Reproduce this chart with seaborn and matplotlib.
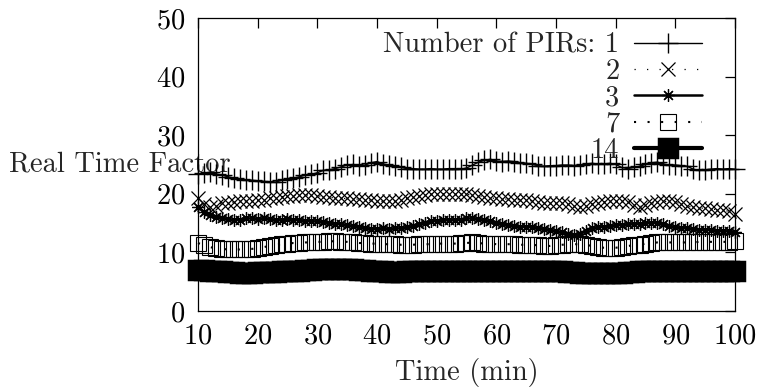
import numpy as np
import pandas as pd
import seaborn as sns
import matplotlib
matplotlib.use("Agg")
import matplotlib.pyplot as plt

# -----------------------------
# Data
# -----------------------------
minutes = list(range(10, 101))

pir_1 = [23.3, 23.5, 23.7, 23.4, 23.2, 22.9, 22.7, 22.5, 22.4, 22.3,
         22.2, 22.1, 22.0, 22.0, 22.3, 22.6, 22.7, 22.9, 23.2, 23.3,
         23.6, 24.0, 24.1, 24.3, 24.6, 24.9, 25.0, 24.8, 24.9, 25.3,
         25.5, 25.1, 24.9, 24.7, 24.5, 24.3, 24.3, 24.2, 24.2, 24.3,
         24.2, 24.2, 24.3, 24.3, 24.2, 24.4, 24.9, 25.4, 25.7, 25.9,
         25.6, 25.5, 25.6, 25.5, 25.3, 25.2, 25.0, 24.8, 24.7, 24.8,
         24.8, 24.9, 24.9, 24.8, 24.9, 25.1, 25.2, 25.1, 25.1, 25.2,
         25.0, 24.5, 24.3, 24.5, 24.7, 25.0, 25.3, 25.4, 25.1, 24.9,
         24.9, 24.8, 24.7, 24.2, 24.0, 24.1, 24.2, 24.3, 24.2, 24.3,
         24.2]

pir_2 = [19.2, 18.3, 17.8, 18.0, 18.4, 18.5, 18.6, 18.7, 18.8, 18.8,
         18.9, 19.0, 19.2, 19.3, 19.5, 19.6, 19.7, 19.8, 19.8, 19.8,
         19.7, 19.5, 19.4, 19.3, 19.2, 19.2, 19.1, 19.1, 19.0, 18.9,
         18.8, 18.7, 18.7, 18.8, 18.9, 19.2, 19.5, 19.6, 19.8, 19.9,
         20.0, 20.0, 20.0, 20.0, 19.9, 19.9, 19.8, 19.7, 19.5, 19.3,
         19.2, 19.1, 19.1, 19.0, 19.0, 18.9, 18.8, 18.6, 18.5, 18.5,
         18.4, 18.4, 18.2, 17.9, 17.8, 18.0, 18.2, 18.4, 18.6, 18.7,
         18.7, 18.7, 18.6, 18.1, 17.8, 18.1, 18.4, 18.6, 18.7, 18.7,
         18.6, 18.3, 17.9, 17.7, 17.6, 17.5, 17.4, 17.3, 17.2, 17.0,
         16.6]

pir_3 = [17.8, 16.9, 16.3, 16.1, 15.9, 15.7, 15.5, 15.6, 15.8, 15.8,
         15.7, 15.8, 15.7, 15.5, 15.5, 15.7, 15.6, 15.5, 15.4, 15.3,
         15.3, 15.2, 15.1, 14.9, 14.8, 14.6, 14.5, 14.4, 14.2, 14.0,
         14.0, 14.1, 14.0, 14.1, 14.1, 14.3, 14.5, 14.8, 15.1, 15.3,
         15.4, 15.5, 15.5, 15.5, 15.6, 15.8, 15.8, 15.7, 15.5, 15.3,
         15.1, 14.9, 14.7, 14.5, 14.4, 14.4, 14.3, 14.2, 14.0, 13.8,
         13.6, 13.4, 13.2, 13.0, 13.2, 13.7, 14.1, 14.3, 14.4, 14.5,
         14.6, 14.7, 14.8, 14.8, 14.9, 15.0, 15.0, 15.1, 14.9, 14.5,
         14.3, 14.2, 14.1, 14.0, 13.9, 13.9, 13.8, 13.7, 13.6, 13.6,
         13.5]

pir_7 = [11.6, 11.2, 10.9, 10.7, 10.6, 10.5, 10.5, 10.5, 10.6, 10.6,
         10.7, 10.9, 11.1, 11.3, 11.4, 11.5, 11.6, 11.6, 11.7, 11.7,
         11.8, 11.8, 11.9, 11.9, 11.8, 11.8, 11.7, 11.6, 11.6, 11.5,
         11.5, 11.4, 11.4, 11.4, 11.3, 11.3, 11.3, 11.4, 11.4, 11.4,
         11.5, 11.5, 11.5, 11.5, 11.6, 11.6, 11.7, 11.6, 11.5, 11.5,
         11.4, 11.4, 11.4, 11.4, 11.3, 11.3, 11.3, 11.2, 11.1, 11.1,
         11.2, 11.3, 11.4, 11.4, 11.4, 11.3, 11.1, 10.9, 10.8, 10.8,
         10.8, 10.9, 11.1, 11.2, 11.3, 11.5, 11.6, 11.7, 11.7, 11.7,
         11.7, 11.7, 11.7, 11.7, 11.8, 11.8, 11.8, 11.8, 11.8, 11.8,
         11.9]

pir_14 = [7.0, 7.0, 6.9, 6.9, 6.8, 6.7, 6.6, 6.5, 6.5, 6.5,
          6.6, 6.6, 6.7, 6.7, 6.8, 6.8, 6.9, 6.9, 7.0, 7.0,
          7.1, 7.1, 7.2, 7.2, 7.2, 7.1, 7.1, 7.0, 7.0, 6.9,
          6.8, 6.8, 6.7, 6.7, 6.7, 6.8, 6.8, 6.8, 6.9, 6.9,
          6.9, 6.9, 6.9, 6.9, 6.9, 6.8, 6.8, 6.8, 6.9, 6.9,
          6.9, 6.9, 6.9, 6.8, 6.8, 6.8, 6.8, 6.8, 6.9, 6.9,
          6.9, 6.8, 6.7, 6.6, 6.5, 6.5, 6.5, 6.5, 6.5, 6.5,
          6.5, 6.5, 6.6, 6.7, 6.8, 6.9, 6.9, 6.9, 6.9, 6.9,
          6.9, 6.9, 6.9, 6.9, 6.8, 6.8, 6.8, 6.8, 6.8, 6.8,
          6.9]

labels = ["Number of PIRs: 1", "2", "3", "7", "14"]

# -----------------------------
# Style
# -----------------------------
sns.set_style("white")
plt.rcParams['font.family'] = ['cmr10', 'DejaVu Serif']
plt.rcParams['axes.formatter.use_mathtext'] = True
plt.rcParams['mathtext.fontset'] = 'cm'
plt.rcParams['font.size'] = 20.5

fig = plt.figure(figsize=(7.63, 3.91), dpi=100)
ax = fig.add_axes([0.2595, 0.2046, 0.7038, 0.7494])

styles = [
    dict(y=pir_1, marker='+', markersize=14, markeredgewidth=1.0,
         linewidth=1.0, linestyle='-'),
    dict(y=pir_2, marker='x', markersize=10, markeredgewidth=0.9,
         linewidth=0.9, linestyle=(0, (1, 9))),
    dict(y=pir_3, marker=(8, 2, 0), markersize=9, markeredgewidth=0.9,
         linewidth=1.8, linestyle='-'),
    dict(y=pir_7, marker='s', markersize=11, markeredgewidth=0.8,
         markerfacecolor='none', linewidth=1.5, linestyle=(0, (1, 5.5))),
    dict(y=pir_14, marker='s', markersize=12.5, markeredgewidth=2.5,
         linewidth=3.0, linestyle='-'),
]

for lab, st in zip(labels, styles):
    st = dict(st)
    yvals = st.pop('y')
    df = pd.DataFrame({'Time': minutes, 'RTF': yvals})
    sns.lineplot(data=df, x='Time', y='RTF', ax=ax, color='black',
                 label=lab, markeredgecolor='black', clip_on=False, **st)

ax.set_xlim(10, 100)
ax.set_ylim(0, 50)
ax.set_xticks(range(10, 101, 10))
ax.set_yticks(range(0, 51, 10))

ax.tick_params(direction='in', length=7, width=0.9, top=True, right=True,
               labelsize=20.5, pad=9, colors='black')
for sp in ax.spines.values():
    sp.set_linewidth(0.9)
    sp.set_color('black')

ax.set_xlabel("Time (min)", fontsize=20.5, labelpad=6)
ax.set_ylabel("Real Time Factor", fontsize=20.5, rotation=0, ha='center',
              va='center')
ax.yaxis.set_label_coords(-0.145, 0.50)

ax.legend(loc='upper right', bbox_to_anchor=(0.965, 1.0), frameon=False,
          markerfirst=False, handlelength=2.4, handletextpad=0.5,
          labelspacing=0.0, borderpad=0, fontsize=20.5)

fig.savefig("out.png", dpi=100)
